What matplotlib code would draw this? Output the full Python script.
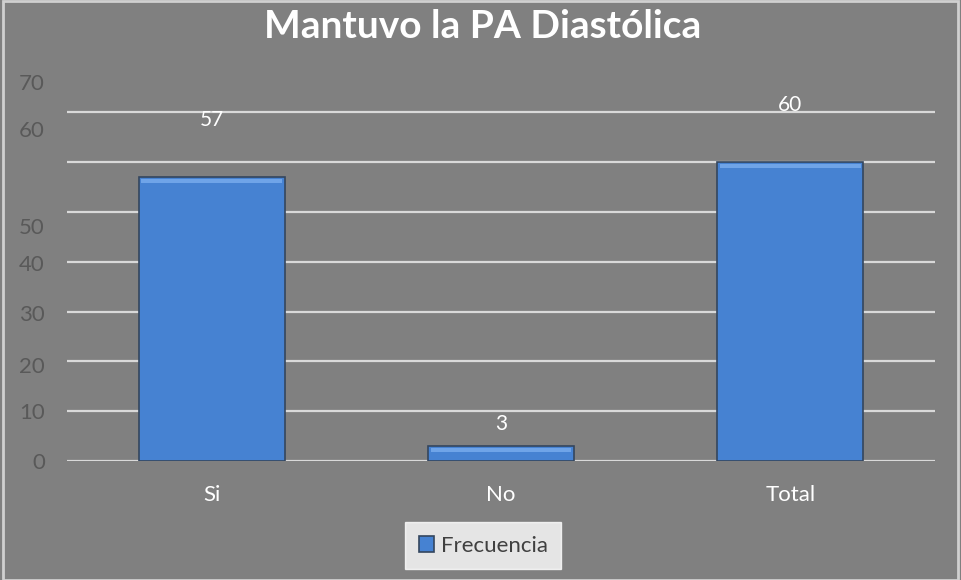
import matplotlib.pyplot as plt
from matplotlib.patches import Rectangle

categories = ["Si", "No", "Total"]
frecuencia = [57, 3, 60]
grid_values = [0, 10, 20, 30, 40, 50, 60, 70]
tick_labels = ["0", "10", "20", "30", "40", "50", "60", "70"]
# the original image has its axis labels and value labels drawn out of place
tick_pos = [0, 10, 19.3, 29.7, 39.8, 47.2, 66.6, 76.0]
label_y = [68.5, 7.4, 71.5]

plt.rcParams['font.family'] = ['Lato', 'DejaVu Sans']

bg = '#808080'
fig = plt.figure(figsize=(9.61, 5.80), dpi=100, facecolor=bg)
ax = fig.add_axes([0.0697, 0.2052, 0.9033, 0.687])
ax.set_facecolor(bg)

x = range(len(categories))
ax.set_xlim(-0.5, 2.5)
ax.set_ylim(0, 80)

for v in grid_values:
    ax.axhline(v, color='#d9d9d9', lw=1.6, zorder=1)

bars = ax.bar(x, frecuencia, width=0.505, color='#4682d2',
              edgecolor='#34465e', linewidth=1.2, zorder=3)
# light bevel along the top of each bar
for b in bars:
    ax.add_patch(Rectangle((b.get_x() + 0.01, b.get_height() - 1.2), b.get_width() - 0.02, 0.9,
                           color='#6fa4e8', lw=0, zorder=4))

for xi, v, ly in zip(x, frecuencia, label_y):
    ax.text(xi, ly, str(v), ha='center', va='center', color='white', fontsize=15, zorder=5)

ax.set_xticks(list(x))
ax.set_xticklabels(categories, color='white', fontsize=16)
ax.set_yticks(tick_pos)
ax.set_yticklabels(tick_labels, color='#595959', fontsize=16)
ax.tick_params(length=0)
ax.tick_params(axis='x', pad=17)
ax.tick_params(axis='y', pad=16)
for s in ax.spines.values():
    s.set_visible(False)

fig.text(0.502, 0.955, "Mantuvo la PA Diastólica", ha='center', va='center',
         color='white', fontsize=28, fontweight='bold')

leg = fig.legend([bars[0]], ["Frecuencia"], loc='center', bbox_to_anchor=(0.503, 0.059),
                 frameon=True, fancybox=False, fontsize=16, handlelength=0.7, handleheight=0.7,
                 handletextpad=0.3, borderpad=0.6)
leg.get_frame().set_facecolor('white')
leg.get_frame().set_edgecolor('white')
for t in leg.get_texts():
    t.set_color('#404040')

fig.patches.append(Rectangle((0.003, 0.0), 0.994, 0.998, transform=fig.transFigure,
                             fill=False, edgecolor='#d0d0d0', lw=2))

fig.savefig("out.png", dpi=100, facecolor=bg)
